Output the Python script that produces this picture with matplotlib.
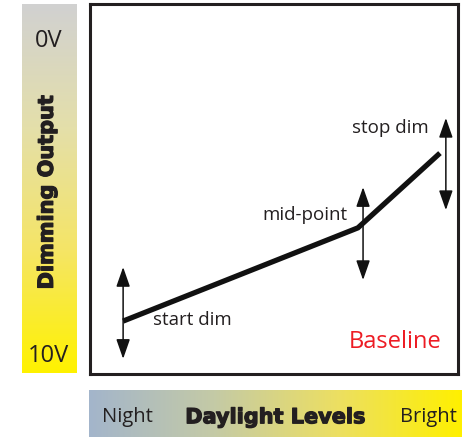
import numpy as np
import matplotlib
matplotlib.use("Agg")
import matplotlib.pyplot as plt
import matplotlib.patheffects as pe
from matplotlib.colors import LinearSegmentedColormap

# Data (daylight level %, dimming output in volts; 0V at top, 10V at bottom)
daylight = [9.0, 72.8, 95.1]
output_v = [8.57, 6.05, 4.03]
point_labels = ["start dim", "mid-point", "stop dim"]
arrow_x = [9.0, 74.2, 96.7]
arrow_top = [7.11, 4.95, 3.08]
arrow_bottom = [9.59, 7.46, 5.57]
y_labels = ["0V", "10V"]
x_labels = ["Night", "Bright"]

W, H = 463, 437
fig = plt.figure(figsize=(W / 100, H / 100), dpi=100)

def ax_px(x0, y0, x1, y1):
    return fig.add_axes([x0 / W, 1 - y1 / H, (x1 - x0) / W, (y1 - y0) / H])

reg = "Open Sans"
heavy = dict(family="DejaVu Sans", fontweight="bold",
             path_effects=[pe.withStroke(linewidth=0.9, foreground="#231f20")])

# Left gradient bar
axl = ax_px(22, 4, 76, 373)
cm_l = LinearSegmentedColormap.from_list("l", ["#d1d1d1", "#e4dfaa", "#f5e566", "#fff200"])
axl.imshow(np.linspace(0, 1, 256)[:, None], aspect="auto", cmap=cm_l, extent=[0, 1, 1, 0])
axl.set_xlim(0, 1); axl.set_ylim(1, 0); axl.axis("off")
axl.text(0.49, 0.10, y_labels[0], ha="center", va="center", fontsize=17, family=reg, color="#231f20")
axl.text(0.49, 0.955, y_labels[1], ha="center", va="center", fontsize=17, family=reg, color="#231f20")
axl.text(0.46, 0.51, "Dimming Output", ha="center", va="center", rotation=90, fontsize=15, color="#231f20", **heavy)

# Bottom gradient bar
axb = ax_px(89, 390, 462, 437)
cm_b = LinearSegmentedColormap.from_list("b", ["#a3b5cb", "#c4caa6", "#ecdf62", "#fff000"])
axb.imshow(np.linspace(0, 1, 256)[None, :], aspect="auto", cmap=cm_b, extent=[0, 1, 0, 1])
axb.set_xlim(0, 1); axb.set_ylim(0, 1); axb.axis("off")
axb.text(0.035, 0.42, x_labels[0], ha="left", va="center", fontsize=14.5, family=reg, color="#231f20")
axb.text(0.50, 0.42, "Daylight Levels", ha="center", va="center", fontsize=15, color="#231f20", **heavy)
axb.text(0.985, 0.42, x_labels[1], ha="right", va="center", fontsize=14.5, family=reg, color="#231f20")

# Main box
ax = ax_px(90, 4, 458, 374)
ax.set_xlim(0, 100)
ax.set_ylim(10, 0)
ax.set_xticks([]); ax.set_yticks([])
for s in ax.spines.values():
    s.set_linewidth(2.2)
    s.set_color("#231f20")

ax.plot(daylight, output_v, color="#111111", lw=3.8, solid_capstyle="butt", solid_joinstyle="miter")

for x, t, b in zip(arrow_x, arrow_top, arrow_bottom):
    ax.annotate("", xy=(x, t), xytext=(x, b),
                arrowprops=dict(arrowstyle="<|-|>,head_length=1.0,head_width=0.35", color="#111111", lw=1.1,
                                shrinkA=0, shrinkB=0, mutation_scale=12))

ax.text(17, 8.54, point_labels[0], ha="left", va="center", fontsize=13.5, family=reg, color="#231f20")
ax.text(70.0, 5.7, point_labels[1], ha="right", va="center", fontsize=13.5, family=reg, color="#231f20")
ax.text(92.0, 3.35, point_labels[2], ha="right", va="center", fontsize=13.5, family=reg, color="#231f20")
ax.text(95.5, 9.14, "Baseline", ha="right", va="center", fontsize=17, family=reg, color="#ed1c24")

fig.savefig("out.png", dpi=100)
